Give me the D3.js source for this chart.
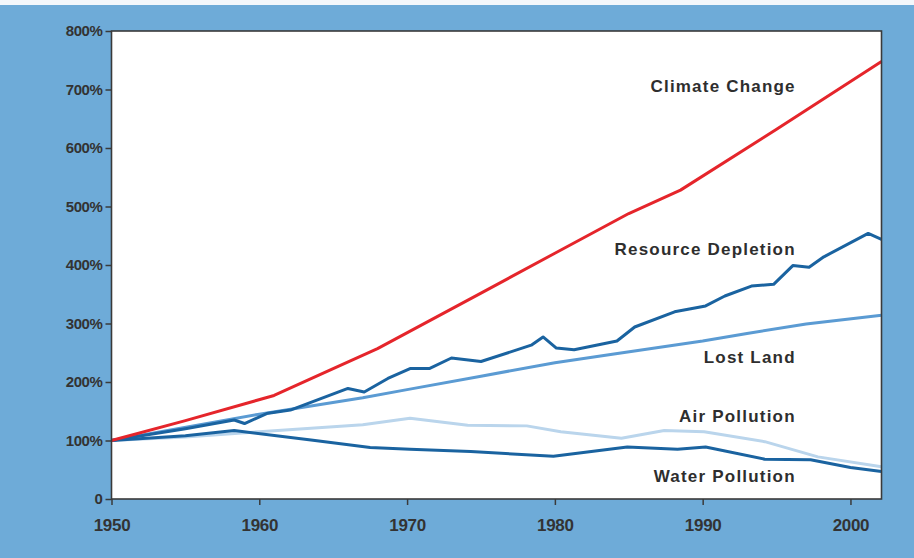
<!DOCTYPE html>
<html>
<head>
<meta charset="utf-8">
<script src="https://cdn.jsdelivr.net/npm/d3@7"></script>
<style>
  html, body { margin: 0; padding: 0; background: #fff; }
  svg { display: block; }
</style>
</head>
<body>
<svg id="chart" width="914" height="558"></svg>
<script>
// ---- data ----
const yTickValues = [0, 100, 200, 300, 400, 500, 600, 700, 800];
const xTickValues = [1950, 1960, 1970, 1980, 1990, 2000];

const climateYears  = [1950, 1955, 1961, 1965, 1968, 1975, 1980, 1985, 1988.5, 1995, 2002.1];
const climateValues = [100, 134, 177, 223, 257, 352, 420, 488, 528, 632, 748];

const resourceYears  = [1950, 1955, 1958.3, 1959, 1960.5, 1962.1, 1966, 1967.1, 1968.7, 1970.2, 1971.5, 1973, 1975, 1978.4, 1979.2, 1980.1, 1981.3, 1984.2, 1985.4, 1988.1, 1990.2, 1991.5, 1993.3, 1994.8, 1996.1, 1997.2, 1998.2, 2001.2, 2002.1];
const resourceValues = [100, 120, 135, 129, 146, 152, 189, 183, 206, 223, 223, 241, 235, 263, 277, 258, 255, 270, 294, 320, 330, 347, 364, 367, 399, 396, 414, 454, 444];

const landYears  = [1950, 1960, 1967, 1970, 1975, 1980, 1984, 1990, 1993, 1997, 2002.1];
const landValues = [100, 145, 173, 187, 210, 233, 248, 270, 283, 299, 314];

const airYears  = [1950, 1955, 1960, 1967, 1970.2, 1974.1, 1978.1, 1980.4, 1984.5, 1987.4, 1990.1, 1994.2, 1997.8, 2002.1];
const airValues = [100, 106, 115, 127, 138, 126, 125, 115, 104, 117, 115, 98, 72, 55];

const waterYears  = [1950, 1955, 1958.3, 1963.5, 1967.5, 1970.2, 1974.3, 1979.9, 1984.9, 1988.3, 1990.2, 1994.2, 1997.3, 2000, 2002.1];
const waterValues = [100, 108, 117, 101, 88, 85, 81, 73, 89, 85, 89, 68, 67, 54, 47];

const seriesNames = ["Air Pollution", "Lost Land", "Water Pollution", "Resource Depletion", "Climate Change"];
const seriesColors = ["#bad5ec", "#5b9bd3", "#1a63a0", "#1a63a0", "#e5252b"];

// ---- layout ----
const svg = d3.select("#chart");
const W = 914, H = 558;
const plot = { left: 111.5, right: 881.5, top: 31, bottom: 499 };

svg.append("rect").attr("x", 0).attr("y", 0).attr("width", W).attr("height", H).attr("fill", "#6eabd8");
svg.append("rect").attr("x", 0).attr("y", 0).attr("width", W).attr("height", 5).attr("fill", "#f3f7fb");

const x = d3.scaleLinear().domain([1950, 2002.1]).range([plot.left, plot.right]);
const y = d3.scaleLinear().domain([0, 800]).range([plot.bottom, plot.top]);

// plot background
svg.append("rect")
  .attr("x", plot.left).attr("y", plot.top)
  .attr("width", plot.right - plot.left).attr("height", plot.bottom - plot.top)
  .attr("fill", "#ffffff");

// lines
const seriesData = [
  d3.zip(airYears, airValues),
  d3.zip(landYears, landValues),
  d3.zip(waterYears, waterValues),
  d3.zip(resourceYears, resourceValues),
  d3.zip(climateYears, climateValues)
];
const line = d3.line().x(d => x(d[0])).y(d => y(d[1]));
const g = svg.append("g");
seriesData.forEach((data, i) => {
  g.append("path")
    .datum(data)
    .attr("d", line)
    .attr("fill", "none")
    .attr("stroke", seriesColors[i])
    .attr("stroke-width", 3)
    .attr("stroke-linejoin", "round")
    .attr("stroke-linecap", "butt");
});

// frame
svg.append("rect")
  .attr("x", plot.left).attr("y", plot.top)
  .attr("width", plot.right - plot.left).attr("height", plot.bottom - plot.top)
  .attr("fill", "none").attr("stroke", "#3a3a3a").attr("stroke-width", 1.6);

// axes
const yAxis = d3.axisLeft(y).tickValues(yTickValues)
  .tickFormat(d => d === 0 ? "0" : d + "%").tickSize(6).tickPadding(3);
const gy = svg.append("g").attr("transform", `translate(${plot.left},0)`).call(yAxis);

const xAxis = d3.axisBottom(x).tickValues(xTickValues)
  .tickFormat(d3.format("d")).tickSize(6).tickPadding(14);
const gx = svg.append("g").attr("transform", `translate(0,${plot.bottom})`).call(xAxis);

[gy, gx].forEach(a => {
  a.select(".domain").remove();
  a.selectAll(".tick line").attr("stroke", "#3a3a3a").attr("stroke-width", 1.5);
  a.selectAll(".tick text")
    .attr("fill", "#333")
    .style("font-family", "'Liberation Sans', Arial, sans-serif")
    .style("font-weight", "bold");
});
gy.selectAll(".tick text").style("font-size", "15px").style("letter-spacing", "-0.4px");
gx.selectAll(".tick text").style("font-size", "17px").style("letter-spacing", "-0.3px");

// series labels (right-aligned)
const labelYears = [1996.3, 1996.3, 1996.3, 1996.3, 1996.3];
const labelValues = [132, 233, 29, 417, 695];
seriesNames.forEach((name, i) => {
  svg.append("text")
    .attr("x", x(labelYears[i]))
    .attr("y", y(labelValues[i]))
    .attr("text-anchor", "end")
    .attr("fill", "#2e2e2e")
    .style("font-family", "'Liberation Sans', Arial, sans-serif")
    .style("font-weight", "bold")
    .style("font-size", "17px")
    .style("letter-spacing", "1.2px")
    .text(name);
});
</script>
</body>
</html>
